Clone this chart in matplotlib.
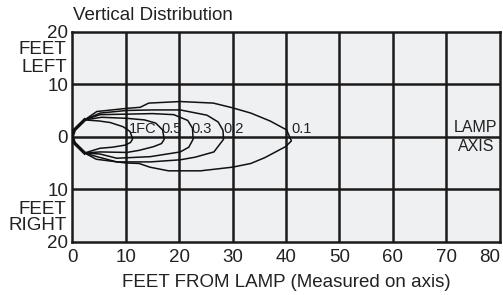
import matplotlib.pyplot as plt

plt.rcParams['font.family'] = ['Liberation Sans', 'DejaVu Sans']

# Iso-footcandle contours (feet from lamp, feet left(+)/right(-) of axis)
fc1_x = [2.3, 5.0, 7.1, 9.5, 10.8, 11.3, 10.9, 9.9, 7.5, 5.2, 2.3]
fc1_y = [3.2, 3.0, 2.7, 1.9, 1.0, -0.4, -1.1, -1.6, -2.0, -2.2, -3.1]

fc05_x = [2.3, 5.5, 10.2, 13.5, 15.6, 16.9, 17.2, 16.7, 15.2, 12.5, 10.2, 5.2, 2.3]
fc05_y = [3.2, 3.7, 3.5, 3.2, 2.6, 1.3, -0.5, -1.3, -1.9, -2.6, -3.0, -2.9, -3.1]

fc03_x = [2.3, 5.2, 10.2, 15.0, 19.0, 21.6, 22.5, 22.6, 21.8, 20.2, 14.6, 8.3, 5.2, 2.3]
fc03_y = [3.2, 4.2, 4.3, 4.4, 4.2, 3.1, 1.6, -0.5, -2.0, -2.9, -3.8, -4.1, -3.3, -3.1]

fc02_x = [2.3, 5.2, 10.2, 15.0, 20.2, 25.2, 27.3, 28.2, 28.3, 26.5, 23.0, 20.2, 14.6, 8.3, 4.6, 2.3]
fc02_y = [3.2, 4.5, 5.0, 5.1, 5.1, 4.1, 2.8, 1.2, -0.5, -2.9, -3.9, -4.4, -4.8, -4.8, -3.8, -3.1]

fc01_x = [2.3, 4.6, 10.2, 12.7, 14.3, 20.2, 26.4, 30.0, 33.4, 37.0, 40.1, 41.0, 39.9,
          36.0, 33.4, 30.0, 24.0, 18.0, 14.5, 12.5, 10.0, 4.5, 2.3]
fc01_y = [3.2, 4.8, 5.4, 5.6, 6.4, 6.7, 6.4, 5.5, 4.5, 3.0, 1.3, -0.8, -1.9,
          -4.0, -5.1, -5.8, -6.5, -6.5, -5.8, -5.1, -5.0, -4.3, -3.1]

# shared nose near the lamp
nose_x = [2.3, 0.4, 0.0, 0.4, 2.3]
nose_y = [-3.1, -1.2, 0.0, 1.3, 3.2]

contour_labels = ['1FC', '0.5', '0.3', '0.2', '0.1']
label_x = [10.6, 16.6, 22.2, 28.3, 41.0]

x_ticks = [0, 10, 20, 30, 40, 50, 60, 70, 80]
y_ticks = [20, 10, 0, -10, -20]
y_tick_labels = ['20', '10', '0', '10', '20']

fig = plt.figure(figsize=(5.03, 2.95), dpi=100)
ax = fig.add_axes([0.1437, 0.1807, 0.850, 0.7118])
ax.set_facecolor('#eff0f2')

for x in x_ticks[1:-1]:
    ax.axvline(x, color='#1a1a1a', lw=1.8, zorder=1)
for y in y_ticks[1:-1]:
    ax.axhline(y, color='#1a1a1a', lw=1.8, zorder=1)

for cx, cy in [(fc1_x, fc1_y), (fc05_x, fc05_y), (fc03_x, fc03_y),
               (fc02_x, fc02_y), (fc01_x, fc01_y)]:
    ax.plot(cx + nose_x, cy + nose_y, color='#111111', lw=1.1, zorder=3)
ax.plot(nose_x, nose_y, color='#111111', lw=2.4, zorder=3)

for lab, lx in zip(contour_labels, label_x):
    ax.text(lx, 0.2, lab, fontsize=10.5, ha='left', va='bottom', color='#222222', zorder=4)

ax.text(75.5, 0.4, 'LAMP', fontsize=11.5, ha='center', va='bottom', color='#222222')
ax.text(75.5, -0.4, 'AXIS', fontsize=11.5, ha='center', va='top', color='#222222')

ax.set_xlim(0, 80)
ax.set_ylim(-20, 20)
ax.set_xticks(x_ticks)
ax.set_yticks(y_ticks)
ax.set_yticklabels(y_tick_labels)
ax.tick_params(length=0, labelsize=13.5, colors='#222222')
ax.tick_params(axis='x', pad=5)
ax.tick_params(axis='y', pad=3)
ax.get_xticklabels()[-1].set_horizontalalignment('right')
for s in ax.spines.values():
    s.set_linewidth(1.8)
    s.set_color('#1a1a1a')

for yy, txt in [(16.6, 'FEET'), (13.2, 'LEFT'), (-13.8, 'FEET'), (-17.0, 'RIGHT')]:
    ax.text(-1.05, yy, txt, fontsize=13.5, ha='right', va='center', color='#222222')

ax.set_xlabel('FEET FROM LAMP (Measured on axis)', fontsize=13.5, color='#222222', labelpad=6)
fig.text(73 / 503, 1 - 15 / 295, 'Vertical Distribution', fontsize=13.5, ha='left',
         va='center', color='#222222')

fig.savefig('out.png', dpi=100)
